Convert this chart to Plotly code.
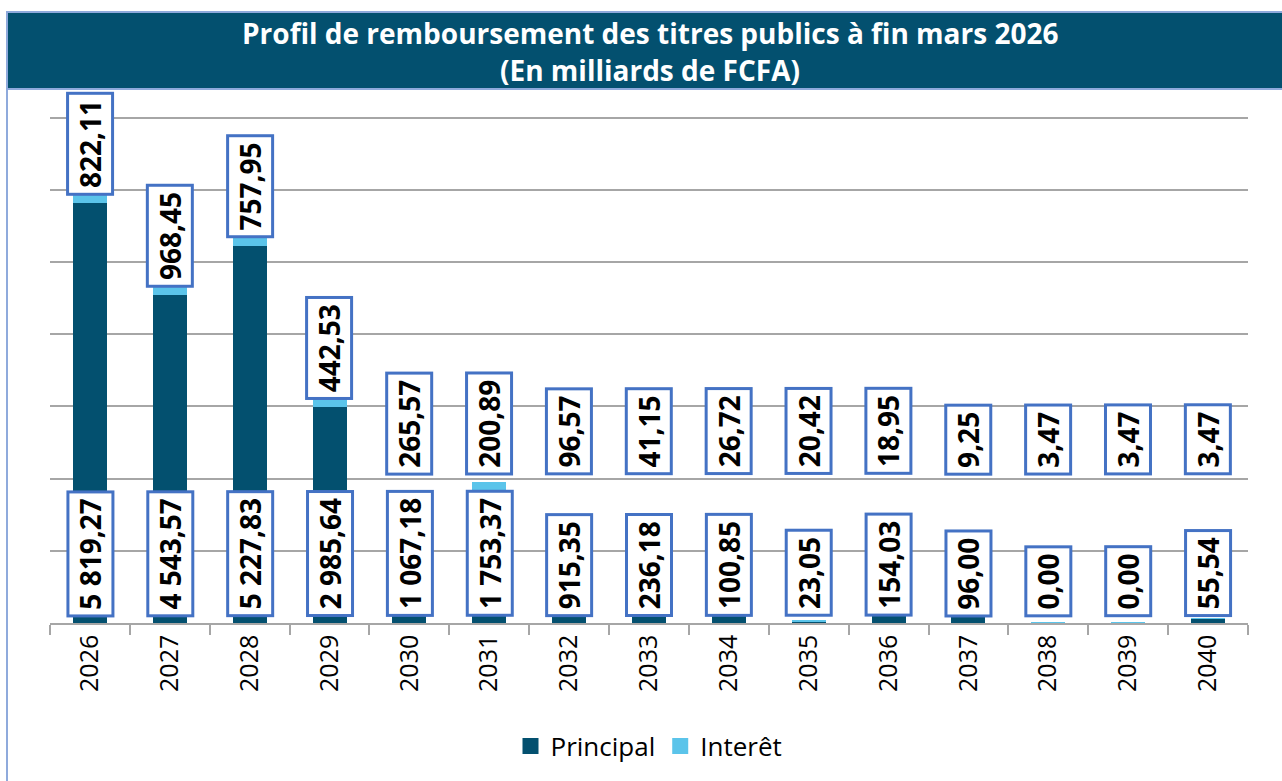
import plotly.graph_objects as go

# ---- data ----
years = ["2026", "2027", "2028", "2029", "2030", "2031", "2032", "2033",
         "2034", "2035", "2036", "2037", "2038", "2039", "2040"]
principal = [5819.27, 4543.57, 5227.83, 2985.64, 1067.18, 1753.37, 915.35,
             236.18, 100.85, 23.05, 154.03, 96.00, 0.00, 0.00, 55.54]
interet = [822.11, 968.45, 757.95, 442.53, 265.57, 200.89, 96.57, 41.15,
           26.72, 20.42, 18.95, 9.25, 3.47, 3.47, 3.47]

title_line1 = "Profil de remboursement des titres publics à fin mars 2026"
title_line2 = "(En milliards de FCFA)"

# ---- style ----
W, H = 1282, 781
ML, MR, MT, MB = 50, 34, 114, 158
DARK = "#03506F"
LIGHT = "#5BC4EA"
BOX = "#4472C4"
FRAME = "#8FAADC"
GRID = "#A6A6A6"
FONT = "Open Sans"
LABEL_FLOOR = 1950  # minimal base for interest labels
PAD = "\u200a"


def px_x(p):
    return (p - ML) / (W - ML - MR)


def px_y(p):
    return (H - MB - p) / (H - MT - MB)


def fr(v):
    s = f"{v:,.2f}"
    return PAD + s.replace(",", " ").replace(".", ",") + PAD


fig = go.Figure()
fig.add_trace(go.Bar(x=years, y=principal, name="Principal",
                     marker=dict(color=DARK, line=dict(width=0)),
                     showlegend=False))
fig.add_trace(go.Bar(x=years, y=interet, name="Interêt",
                     marker=dict(color=LIGHT, line=dict(width=0)),
                     showlegend=False))
# legend entries
fig.add_trace(go.Scatter(x=[years[0]], y=[None], mode="markers", name="Principal",
                         marker=dict(symbol="square", size=18, color=DARK)))
fig.add_trace(go.Scatter(x=[years[0]], y=[None], mode="markers", name="Interêt",
                         marker=dict(symbol="square", size=18, color=LIGHT)))

annotations = []
lab_common = dict(showarrow=False, textangle=-90, bgcolor="white",
                  bordercolor=BOX, borderwidth=3, borderpad=2,
                  font=dict(family=FONT, size=28, color="black", weight="bold"),
                  xref="x", yref="y", yanchor="bottom", xanchor="center")
for k, (p, i) in enumerate(zip(principal, interet)):
    annotations.append(dict(x=k, y=0, text=fr(p), yshift=6, **lab_common))
    annotations.append(dict(x=k, y=max(p, LABEL_FLOOR), text=fr(i), yshift=7,
                            **lab_common))

title_font = dict(family=FONT, size=28, color="white", weight="bold")
annotations.append(dict(x=px_x(650), y=px_y(33), xref="paper", yref="paper",
                        xanchor="center", yanchor="middle",
                        text=title_line1, showarrow=False, font=title_font))
annotations.append(dict(x=px_x(650), y=px_y(70), xref="paper", yref="paper",
                        xanchor="center", yanchor="middle",
                        text=title_line2, showarrow=False, font=title_font))

shapes = [
    dict(type="rect", xref="paper", yref="paper",
         x0=px_x(7), x1=px_x(1295), y0=px_y(12), y1=px_y(800),
         line=dict(color=FRAME, width=2), fillcolor="rgba(0,0,0,0)", layer="below"),
    dict(type="rect", xref="paper", yref="paper",
         x0=px_x(7), x1=px_x(1295), y0=px_y(12), y1=px_y(89),
         line=dict(color=FRAME, width=2), fillcolor=DARK, layer="below"),
]

fig.update_layout(
    width=W, height=H,
    margin=dict(l=ML, r=MR, t=MT, b=MB, autoexpand=False),
    paper_bgcolor="white", plot_bgcolor="white",
    barmode="stack", bargap=0.575,
    font=dict(family=FONT, color="black"),
    annotations=annotations, shapes=shapes,
    legend=dict(orientation="h", x=px_x(649), xanchor="center", y=px_y(746),
                yanchor="middle", font=dict(family=FONT, size=26, color="black"),
                traceorder="normal"),
    xaxis=dict(type="category", range=[-0.5, len(years) - 0.5],
               tickangle=-90, tickson="boundaries",
               ticks="outside", ticklen=10, tickcolor=GRID, tickwidth=1.5,
               showline=True, linecolor=GRID, linewidth=1.5, showgrid=False,
               tickfont=dict(family=FONT, size=25, color="black")),
    yaxis=dict(range=[0, 7050], tickvals=[1000, 2000, 3000, 4000, 5000, 6000, 7000],
               showticklabels=False,
               showgrid=True, gridcolor=GRID, gridwidth=1.5, zeroline=False,
               fixedrange=True),
)

fig.write_html("out.html", config={"displayModeBar": False},
               post_script="document.body.style.margin='0px';document.body.style.overflow='hidden';")
